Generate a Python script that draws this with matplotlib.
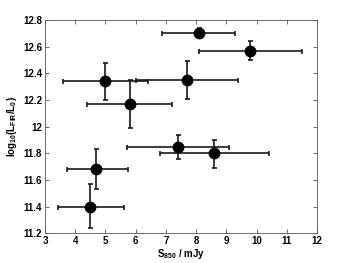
import matplotlib
matplotlib.use('Agg')
import matplotlib.pyplot as plt

plt.rcParams['font.family'] = ['Liberation Sans', 'DejaVu Sans']
plt.rcParams['font.weight'] = 'bold'
plt.rcParams['mathtext.fontset'] = 'custom'
plt.rcParams['mathtext.rm'] = 'Liberation Sans:bold'
plt.rcParams['mathtext.bf'] = 'Liberation Sans:bold'
plt.rcParams['mathtext.it'] = 'Liberation Sans:bold'
plt.rcParams['mathtext.default'] = 'rm'

# flux, luminosity and error bar limits
s850 = [4.5, 4.7, 5.0, 5.8, 7.7, 8.1, 9.8, 7.4, 8.6]
s850_lo = [3.42, 3.72, 3.6, 4.4, 6.0, 6.88, 8.1, 5.7, 6.81]
s850_hi = [5.62, 5.73, 6.42, 7.19, 9.4, 9.3, 11.5, 9.1, 10.42]
lfir = [11.40, 11.685, 12.34, 12.17, 12.35, 12.70, 12.57, 11.85, 11.80]
lfir_lo = [11.24, 11.535, 12.20, 11.99, 12.21, 12.67, 12.50, 11.76, 11.69]
lfir_hi = [11.567, 11.835, 12.48, 12.35, 12.49, 12.74, 12.64, 11.935, 11.90]

xerr = [[s - lo for s, lo in zip(s850, s850_lo)], [hi - s for s, hi in zip(s850, s850_hi)]]
yerr = [[l - lo for l, lo in zip(lfir, lfir_lo)], [hi - l for l, hi in zip(lfir, lfir_hi)]]

fig = plt.figure(figsize=(3.5, 2.63), dpi=100)
ax = fig.add_axes([0.1286, 0.113, 0.777, 0.811])
ax.errorbar(s850, lfir, xerr=xerr, yerr=yerr, fmt='o', color='black', ecolor='#1a1a1a',
            markersize=7.5, elinewidth=1.2, capsize=1.8, capthick=1.2)

ax.set_xlim(3, 12)
ax.set_ylim(11.2, 12.8)
ax.set_xticks(range(3, 13))
ax.set_yticks([11.2, 11.4, 11.6, 11.8, 12.0, 12.2, 12.4, 12.6, 12.8])
ax.set_yticklabels(['11.2', '11.4', '11.6', '11.8', '12', '12.2', '12.4', '12.6', '12.8'])
ax.tick_params(direction='in', top=True, right=True, length=3, width=0.6,
               labelsize=7, pad=2, color='#555555')
for sp in ax.spines.values():
    sp.set_linewidth(0.6)
    sp.set_color('#555555')
ax.set_xlabel('S$_{850}$ / mJy', fontsize=7, fontweight='bold', labelpad=1)
ax.set_ylabel('log$_{10}$(L$_{FIR}$/L$_{0}$)', fontsize=7, fontweight='bold', labelpad=3)

fig.savefig('out.png', dpi=100)
